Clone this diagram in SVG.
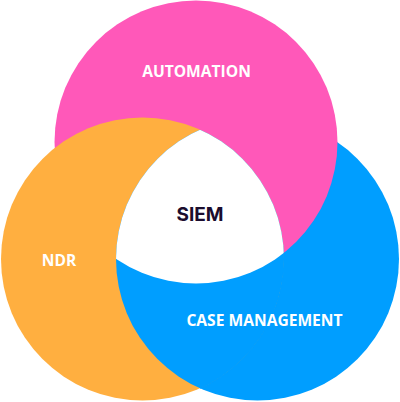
<svg xmlns="http://www.w3.org/2000/svg" width="400" height="402" viewBox="0 0 400 402">
  <style>
    .lbl { font-family: "Open Sans", "Noto Sans", "Liberation Sans", sans-serif; font-weight: 700; font-size: 15.6px; fill: #ffffff; text-anchor: middle; }
    .core { font-family: Inter, "Liberation Sans", sans-serif; font-weight: 700; font-size: 19px; fill: #1b0d2e; text-anchor: middle; }
  </style>
  <defs>
    <clipPath id="cpOrange"><circle cx="142.5" cy="259" r="141.5"/></clipPath>
    <clipPath id="cpBlue"><circle cx="257.5" cy="259" r="141.5"/></clipPath>
  </defs>
  <g id="case-management">
    <circle cx="257.5" cy="259" r="141.5" fill="#009eff"/>
  </g>
  <g id="automation">
    <circle cx="196" cy="142" r="141.5" fill="#ff58b9"/>
  </g>
  <g id="ndr">
    <circle cx="142.5" cy="259" r="141.5" fill="#ffaf40"/>
  </g>
  <g id="overlap-blue-orange">
    <g clip-path="url(#cpOrange)">
      <circle cx="257.5" cy="259" r="141.5" fill="#009eff"/>
    </g>
    <path d="M283.86,252.92 A141.5,141.5 0 0 1 200,388.3" fill="none" stroke="#009eff" stroke-width="1.2"/>
  </g>
  <g id="siem">
    <g clip-path="url(#cpOrange)">
      <g clip-path="url(#cpBlue)">
        <circle cx="196" cy="142" r="141.5" fill="#ffffff"/>
      </g>
    </g>
  </g>
  <g id="labels">
    <text class="lbl" x="196.5" y="77">AUTOMATION</text>
    <text class="lbl" x="59" y="266">NDR</text>
    <text class="lbl" x="264.5" y="325.5">CASE MANAGEMENT</text>
    <text class="core" x="200" y="221">SIEM</text>
  </g>
  <g id="connectors"/>
</svg>
